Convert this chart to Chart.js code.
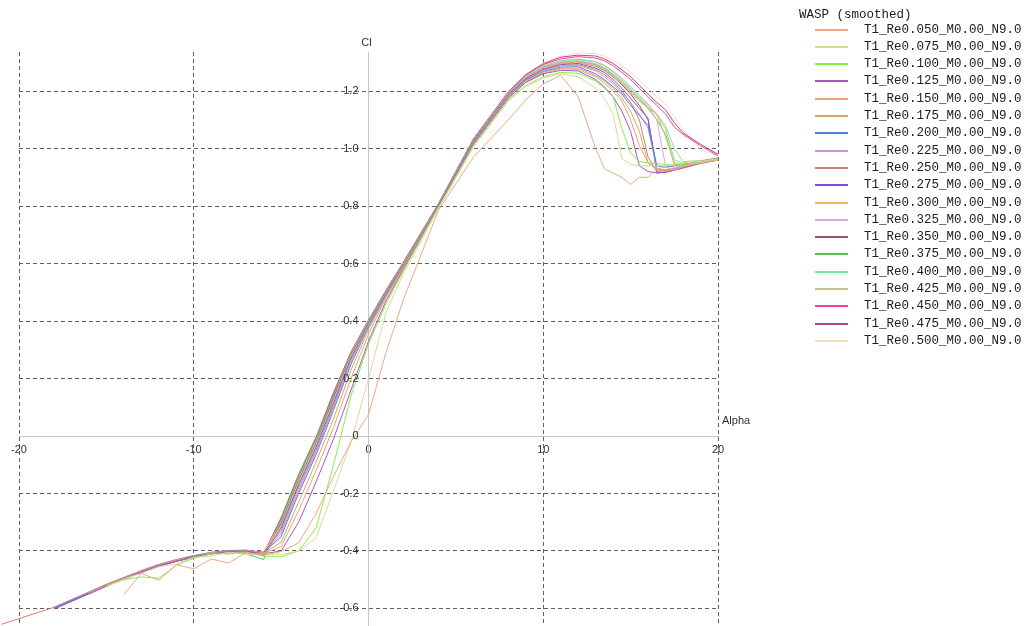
<!DOCTYPE html>
<html>
<head>
<meta charset="utf-8">
<title>WASP (smoothed) - Cl vs Alpha</title>
<script src="https://cdn.jsdelivr.net/npm/chart.js@4.4.1/dist/chart.umd.min.js"></script>
<style>
  html, body { margin: 0; padding: 0; background: #ffffff; }
  #wrap { position: relative; width: 1026px; height: 626px; }
</style>
</head>
<body>
<div id="wrap"><canvas id="polar" width="1026" height="626"></canvas></div>
<script>
// angle of attack (deg), shared by every polar
const alpha = [-21, -18, -16, -15, -14, -13, -12, -11, -10, -9, -8, -7, -6, -5, -4, -3, -2, -1,
  0, 1, 2, 4, 6, 8, 9, 10, 11, 12, 13,
  13.5, 14, 14.5, 15, 15.5, 16, 16.5, 17, 17.5, 18, 19, 20];

// Cl, one array per Reynolds number (null = no point)
const cl050 = [null, null, null, null, -0.552, -0.478, -0.502, -0.448, -0.462, -0.428, -0.442, -0.405, -0.415, -0.402, -0.372, -0.27, -0.14, -0.02,
  0.075, 0.29, 0.475, 0.785, 0.97, 1.10, 1.17, 1.225, 1.255, 1.18, 1.00,
  0.93, 0.915, 0.90, 0.875, 0.90, 0.90, 0.93, 0.935, 0.925, 0.94, 0.95, 0.96];
const cl075 = [null, null, null, -0.525, -0.497, -0.478, -0.455, -0.445, -0.422, -0.418, -0.404, -0.412, -0.41, -0.412, -0.40, -0.355, -0.19, -0.02,
  0.20, 0.43, 0.565, 0.79, 1.005, 1.165, 1.215, 1.245, 1.26, 1.25, 1.21,
  1.175, 1.12, 0.965, 0.945, 0.94, 0.94, 0.94, 0.94, 0.945, 0.95, 0.955, 0.965];
const cl100 = [null, null, null, -0.52, -0.50, -0.49, -0.495, -0.45, -0.425, -0.41, -0.41, -0.405, -0.418, -0.42, -0.40, -0.32, -0.10, 0.14,
  0.32, 0.46, 0.575, 0.795, 1.01, 1.17, 1.22, 1.25, 1.265, 1.262, 1.235,
  1.21, 1.18, 1.07, 0.985, 0.955, 0.95, 0.948, 0.945, 0.942, 0.945, 0.952, 0.962];
const cl125 = [null, null, -0.55, -0.522, -0.497, -0.473, -0.452, -0.435, -0.421, -0.41, -0.402, -0.40, -0.41, -0.40, -0.30, -0.16, -0.01, 0.16,
  0.33, 0.47, 0.58, 0.80, 1.015, 1.175, 1.23, 1.26, 1.272, 1.27, 1.24,
  1.215, 1.18, 1.13, 1.06, 0.94, 0.92, 0.915, 0.918, 0.925, 0.932, 0.948, 0.96];
const cl150 = [null, null, -0.548, -0.52, -0.496, -0.47, -0.455, -0.43, -0.425, -0.405, -0.41, -0.398, -0.408, -0.385, -0.26, -0.12, 0.03, 0.20,
  0.355, 0.48, 0.585, 0.80, 1.015, 1.178, 1.232, 1.262, 1.277, 1.275, 1.25,
  1.228, 1.20, 1.165, 1.10, 1.01, 0.95, 0.93, 0.925, 0.925, 0.935, 0.95, 0.96];
const cl175 = [null, null, -0.547, -0.519, -0.495, -0.471, -0.45, -0.433, -0.42, -0.408, -0.401, -0.399, -0.407, -0.37, -0.23, -0.09, 0.06, 0.23,
  0.37, 0.485, 0.588, 0.80, 1.018, 1.18, 1.235, 1.266, 1.28, 1.28, 1.255,
  1.235, 1.21, 1.175, 1.13, 1.06, 0.95, 0.925, 0.922, 0.93, 0.94, 0.955, 0.965];
const cl200 = [null, -0.60, -0.546, -0.518, -0.494, -0.47, -0.449, -0.432, -0.418, -0.406, -0.40, -0.398, -0.405, -0.35, -0.20, -0.065, 0.09, 0.25,
  0.38, 0.49, 0.59, 0.80, 1.02, 1.182, 1.238, 1.268, 1.283, 1.285, 1.26,
  1.24, 1.215, 1.19, 1.15, 1.115, 1.08, 0.94, 0.935, 0.94, 0.945, 0.955, 0.965];
const cl225 = [null, -0.598, -0.544, -0.517, -0.493, -0.469, -0.448, -0.431, -0.417, -0.405, -0.399, -0.398, -0.406, -0.34, -0.19, -0.055, 0.10, 0.26,
  0.385, 0.492, 0.592, 0.80, 1.022, 1.185, 1.24, 1.272, 1.288, 1.29, 1.27,
  1.25, 1.225, 1.195, 1.16, 1.12, 1.07, 0.93, 0.925, 0.93, 0.94, 0.955, 0.968];
const cl250 = [-0.655, -0.596, -0.543, -0.517, -0.493, -0.469, -0.448, -0.431, -0.417, -0.406, -0.399, -0.397, -0.405, -0.33, -0.18, -0.05, 0.105, 0.265,
  0.387, 0.493, 0.593, 0.80, 1.022, 1.185, 1.24, 1.273, 1.289, 1.292, 1.275,
  1.258, 1.232, 1.20, 1.16, 1.10, 0.97, 0.92, 0.918, 0.925, 0.935, 0.952, 0.962];
const cl275 = [null, -0.60, -0.547, -0.52, -0.496, -0.472, -0.452, -0.436, -0.42, -0.41, -0.403, -0.405, -0.415, -0.32, -0.17, -0.04, 0.115, 0.27,
  0.39, 0.495, 0.595, 0.802, 1.025, 1.188, 1.243, 1.276, 1.292, 1.296, 1.28,
  1.265, 1.24, 1.21, 1.175, 1.14, 1.105, 0.915, 0.918, 0.925, 0.935, 0.952, 0.962];
const cl300 = [null, -0.597, -0.544, -0.518, -0.494, -0.47, -0.45, -0.433, -0.419, -0.407, -0.401, -0.399, -0.404, -0.315, -0.165, -0.035, 0.12, 0.275,
  0.392, 0.497, 0.597, 0.803, 1.025, 1.19, 1.246, 1.28, 1.296, 1.30, 1.288,
  1.274, 1.252, 1.225, 1.195, 1.165, 1.14, 1.12, 1.04, 0.95, 0.945, 0.955, 0.965];
const cl325 = [null, -0.599, -0.546, -0.519, -0.495, -0.471, -0.45, -0.434, -0.42, -0.408, -0.402, -0.40, -0.406, -0.31, -0.16, -0.03, 0.125, 0.278,
  0.393, 0.498, 0.598, 0.803, 1.026, 1.19, 1.247, 1.282, 1.30, 1.305, 1.295,
  1.282, 1.26, 1.235, 1.205, 1.175, 1.145, 1.10, 0.94, 0.935, 0.94, 0.955, 0.965];
const cl350 = [null, -0.601, -0.548, -0.521, -0.497, -0.473, -0.452, -0.435, -0.421, -0.409, -0.402, -0.401, -0.41, -0.305, -0.155, -0.025, 0.13, 0.28,
  0.395, 0.50, 0.60, 0.804, 1.027, 1.19, 1.245, 1.28, 1.296, 1.30, 1.287,
  1.272, 1.25, 1.222, 1.19, 1.15, 1.10, 0.93, 0.925, 0.93, 0.94, 0.955, 0.965];
const cl375 = [null, -0.599, -0.545, -0.518, -0.494, -0.47, -0.449, -0.432, -0.418, -0.407, -0.401, -0.41, -0.43, -0.29, -0.14, -0.01, 0.14, 0.285,
  0.398, 0.502, 0.601, 0.805, 1.028, 1.19, 1.248, 1.283, 1.30, 1.305, 1.292,
  1.278, 1.256, 1.23, 1.20, 1.17, 1.14, 1.10, 1.05, 0.945, 0.945, 0.955, 0.965];
const cl400 = [null, -0.598, -0.545, -0.518, -0.494, -0.47, -0.449, -0.432, -0.418, -0.406, -0.40, -0.399, -0.41, -0.30, -0.15, -0.02, 0.135, 0.285,
  0.398, 0.503, 0.602, 0.806, 1.03, 1.193, 1.25, 1.286, 1.304, 1.31, 1.30,
  1.287, 1.266, 1.24, 1.21, 1.18, 1.15, 1.115, 1.07, 0.96, 0.95, 0.957, 0.967];
const cl425 = [null, -0.597, -0.544, -0.517, -0.493, -0.469, -0.448, -0.431, -0.417, -0.405, -0.399, -0.398, -0.408, -0.295, -0.145, -0.015, 0.14, 0.288,
  0.40, 0.505, 0.603, 0.806, 1.03, 1.193, 1.25, 1.287, 1.306, 1.312, 1.303,
  1.29, 1.27, 1.245, 1.215, 1.185, 1.155, 1.12, 1.08, 1.00, 0.955, 0.958, 0.968];
const cl450 = [null, -0.596, -0.543, -0.516, -0.492, -0.468, -0.447, -0.43, -0.416, -0.405, -0.398, -0.398, -0.406, -0.29, -0.14, -0.01, 0.145, 0.29,
  0.402, 0.506, 0.604, 0.807, 1.032, 1.196, 1.255, 1.292, 1.312, 1.32, 1.315,
  1.305, 1.288, 1.265, 1.24, 1.21, 1.18, 1.15, 1.12, 1.075, 1.05, 1.01, 0.975];
const cl475 = [null, -0.602, -0.549, -0.522, -0.498, -0.474, -0.453, -0.436, -0.422, -0.41, -0.403, -0.402, -0.412, -0.285, -0.135, -0.005, 0.15, 0.292,
  0.403, 0.507, 0.605, 0.808, 1.033, 1.197, 1.257, 1.295, 1.318, 1.325, 1.322,
  1.312, 1.296, 1.274, 1.25, 1.22, 1.19, 1.16, 1.135, 1.09, 1.055, 1.015, 0.98];
const cl500 = [null, -0.597, -0.544, -0.517, -0.493, -0.469, -0.448, -0.431, -0.417, -0.406, -0.40, -0.399, -0.407, -0.28, -0.13, 0.0, 0.155, 0.295,
  0.405, 0.508, 0.606, 0.808, 1.034, 1.198, 1.26, 1.298, 1.322, 1.333, 1.33,
  1.322, 1.308, 1.288, 1.265, 1.238, 1.21, 1.18, 1.155, 1.11, 1.065, 0.995, 0.975];

const polars = [cl050, cl075, cl100, cl125, cl150, cl175, cl200, cl225, cl250, cl275,
  cl300, cl325, cl350, cl375, cl400, cl425, cl450, cl475, cl500];

const legendTitle = 'WASP (smoothed)';
const reLabels = [
  'T1_Re0.050_M0.00_N9.0', 'T1_Re0.075_M0.00_N9.0', 'T1_Re0.100_M0.00_N9.0', 'T1_Re0.125_M0.00_N9.0',
  'T1_Re0.150_M0.00_N9.0', 'T1_Re0.175_M0.00_N9.0', 'T1_Re0.200_M0.00_N9.0', 'T1_Re0.225_M0.00_N9.0',
  'T1_Re0.250_M0.00_N9.0', 'T1_Re0.275_M0.00_N9.0', 'T1_Re0.300_M0.00_N9.0', 'T1_Re0.325_M0.00_N9.0',
  'T1_Re0.350_M0.00_N9.0', 'T1_Re0.375_M0.00_N9.0', 'T1_Re0.400_M0.00_N9.0', 'T1_Re0.425_M0.00_N9.0',
  'T1_Re0.450_M0.00_N9.0', 'T1_Re0.475_M0.00_N9.0', 'T1_Re0.500_M0.00_N9.0'
];

// axis ticks
const xTicks = [-20, -10, 0, 10, 20];
const yTicks = [-0.6, -0.4, -0.2, 0, 0.2, 0.4, 0.6, 0.8, 1.0, 1.2];
const yTickLabels = ['-0.6', '-0.4', '-0.2', '0', '0.2', '0.4', '0.6', '0.8', '1.0', '1.2'];

// line colours, same order as polars
const lineColors = ['#eea884', '#d8d898', '#88f040', '#a855c8', '#eea070', '#d2a860', '#4a80e0', '#c898d0',
  '#d08070', '#8050d0', '#f0b860', '#dca8dc', '#a05060', '#50c850', '#70e8a0', '#c8c090',
  '#f040a0', '#b04890', '#f8dcc0'];

const gridColor = '#606060';
const axisColor = '#c6c6c6';
const labelFont = '11px "Liberation Sans", Arial, sans-serif';
const monoFont = '12.5px "Liberation Mono", "Courier New", monospace';

// draws y tick labels, axis names and the legend on the right
const axisText = {
  id: 'axisText',
  afterDraw(chart) {
    const { ctx, scales: { x, y } } = chart;
    const x0 = x.getPixelForValue(0);
    const y0 = y.getPixelForValue(0);
    ctx.save();
    ctx.font = labelFont;
    ctx.fillStyle = '#303030';
    ctx.textAlign = 'right';
    ctx.textBaseline = 'middle';
    yTicks.forEach((v, i) => ctx.fillText(yTickLabels[i], x0 - 10, y.getPixelForValue(v)));
    ctx.textAlign = 'center';
    ctx.fillText('Cl', x0 - 2, y.top - 9);
    ctx.textAlign = 'left';
    ctx.fillText('Alpha', x.right + 4, y0 - 15);

    // legend
    ctx.font = monoFont;
    ctx.fillStyle = '#202020';
    ctx.fillText(legendTitle, 799, 15);
    reLabels.forEach((lbl, i) => {
      const yy = Math.round(29.5 + i * 17.3);
      ctx.strokeStyle = lineColors[i];
      ctx.lineWidth = 2;
      ctx.beginPath();
      ctx.moveTo(815, yy);
      ctx.lineTo(848, yy);
      ctx.stroke();
      ctx.fillStyle = '#202020';
      ctx.fillText(lbl, 864, yy);
    });
    ctx.restore();
  }
};

const datasets = polars.map((cl, i) => ({
  label: reLabels[i],
  data: alpha.map((a, j) => ({ x: a, y: cl[j] })).filter(p => p.y !== null),
  borderColor: lineColors[i],
  backgroundColor: lineColors[i],
  borderWidth: 1,
  pointRadius: 0,
  showLine: true,
  fill: false,
  tension: 0,
  clip: false
}));

const gridOpts = {
  color: c => (c.tick && c.tick.value === 0) ? 'rgba(0,0,0,0)' : gridColor,
  lineWidth: 1,
  drawTicks: true,
  tickLength: 4,
  tickColor: 'rgba(0,0,0,0)'
};

new Chart(document.getElementById('polar'), {
  type: 'scatter',
  data: { datasets: datasets },
  options: {
    responsive: false,
    animation: false,
    events: [],
    layout: { padding: { left: 19, right: 308, top: 52, bottom: 0 } },
    plugins: {
      legend: { display: false },
      tooltip: { enabled: false }
    },
    scales: {
      x: {
        type: 'linear',
        min: -20,
        max: 20,
        position: { y: 0 },
        afterBuildTicks: s => { s.ticks = xTicks.map(v => ({ value: v })); },
        grid: gridOpts,
        border: { display: true, color: axisColor, width: 1, dash: [4, 3] },
        ticks: {
          color: '#303030',
          font: { family: '"Liberation Sans", Arial, sans-serif', size: 11 },
          maxRotation: 0,
          autoSkip: false,
          callback: v => String(v)
        }
      },
      y: {
        type: 'linear',
        min: -0.661,
        max: 1.336,
        position: { x: 0 },
        afterBuildTicks: s => { s.ticks = yTicks.map(v => ({ value: v })); },
        grid: gridOpts,
        border: { display: true, color: axisColor, width: 1, dash: [4, 3] },
        ticks: { display: false }
      }
    }
  },
  plugins: [axisText]
});
</script>
</body>
</html>
